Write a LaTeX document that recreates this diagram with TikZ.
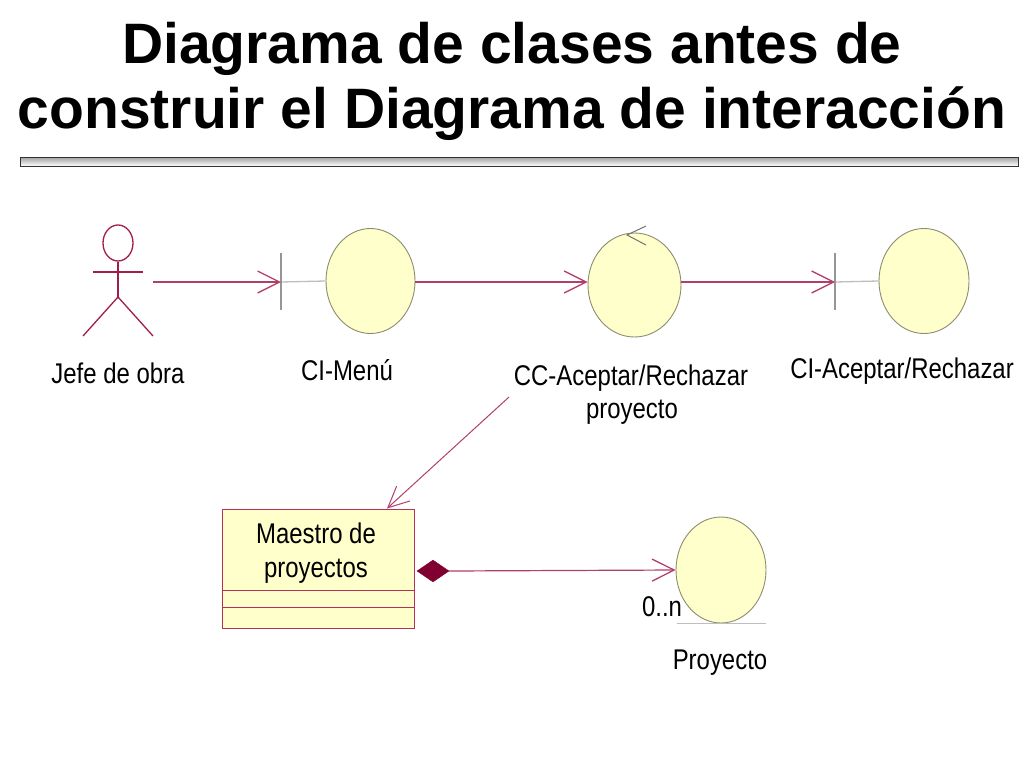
\documentclass[tikz,border=0pt]{standalone}
\usepackage{fontspec}
\setmainfont{Liberation Sans}
\newfontfamily\lbl[FakeStretch=0.84]{Liberation Sans}
\usetikzlibrary{arrows.meta,shapes.geometric}
\definecolor{lncol}{RGB}{178,62,108}
\definecolor{actcol}{RGB}{160,30,72}
\definecolor{robfill}{RGB}{255,255,204}
\definecolor{robdraw}{RGB}{140,140,110}
\definecolor{boxdraw}{RGB}{180,50,90}
\definecolor{diacol}{RGB}{128,0,50}
\definecolor{bndcol}{RGB}{150,150,150}
\definecolor{gl}{RGB}{190,190,190}
\tikzset{
  robust/.style={ellipse,draw=robdraw,fill=robfill,line width=0.9pt,inner sep=0pt},
  conn/.style={draw=lncol,line width=1.3pt,-{Straight Barb[length=22pt,width=22pt,line width=1.3pt]}},
  thinconn/.style={draw=lncol,line width=1pt,-{Straight Barb[length=21pt,width=20pt,line width=1pt]}},
  lab/.style={font=\lbl\fontsize{28.5}{33}\selectfont,anchor=base,inner sep=0pt,align=center,text=black},
  actline/.style={draw=actcol,line width=1.3pt},
  bnd/.style={draw=bndcol,line width=1.2pt},
  gray link/.style={draw=gl,line width=1.3pt}
}
\begin{document}
\begin{tikzpicture}[x=1pt,y=-1pt]
\useasboundingbox (0,0) rectangle (1024,768);
% title (base anchor = baseline of last line)
\node[font=\bfseries\fontsize{57}{65}\selectfont,align=center,anchor=base,inner sep=0pt] (title) at (512,128) {Diagrama de clases antes de\\construir el Diagrama de interacción};
\shade[top color=gray!75,bottom color=white,draw=black!80,line width=0.8pt] (20,157) rectangle (1018,166);

% actor
\node[ellipse,draw=actcol,line width=1.3pt,minimum width=30pt,minimum height=36pt,inner sep=0pt] (actor) at (118,243) {};
\coordinate (hip) at (118,297);
\coordinate (armL) at (93,272);
\coordinate (armR) at (143,272);
\coordinate (footL) at (83,336);
\coordinate (footR) at (153,336);
\draw[actline] (actor.south) -- (hip);
\draw[actline] (armL) -- (armR);
\draw[actline] (footL) -- (hip) -- (footR);
\node[lab] (actlab) at (118,383) {Jefe de obra};

% robustness objects
\node[robust,minimum width=89pt,minimum height=105pt] (cimenu) at (370.5,281) {};
\node[robust,minimum width=93pt,minimum height=104pt] (cc) at (634.5,285) {};
\node[robust,minimum width=90pt,minimum height=105pt] (ciar) at (924,281) {};
\node[robust,minimum width=90pt,minimum height=106pt] (proy) at (721,570) {};

% boundary symbols
\coordinate (b1) at (281,282);
\coordinate (b2) at (835,282);
\draw[gray link] (b1) -- (cimenu.west);
\draw[gray link] (b2) -- (ciar.west);
\draw[bnd] ([yshift=29pt]b1) -- ([yshift=-28pt]b1);
\draw[bnd] ([yshift=29pt]b2) -- ([yshift=-28pt]b2);

% control symbol
\draw[draw=gray!90!black,line width=1pt] (646,226) -- (627,235) -- (646,245);

% entity underline
\draw[gray link] ([xshift=-44pt]proy.south) -- ([xshift=45pt]proy.south);

% connectors
\coordinate (actR) at (153,282);
\draw[conn] (actR) -- (b1);
\draw[conn] (cimenu.east |- b1) -- (cc.west |- b1);
\draw[conn] (cc.east |- b2) -- (b2);

% class box
\node[draw=boxdraw,fill=robfill,line width=1pt,minimum width=192pt,minimum height=119pt,inner sep=0pt] (box) at (318,568.5) {};
\draw[draw=boxdraw,line width=1pt] (box.west |- 0,590) -- (box.east |- 0,590);
\draw[draw=boxdraw,line width=1pt] (box.west |- 0,607) -- (box.east |- 0,607);
\node[lab,font=\lbl\fontsize{28.5}{34}\selectfont] (boxlab) at (316,577) {Maestro de\\proyectos};

\coordinate (ccfoot) at (509,397);
\draw[thinconn] (ccfoot) -- ([xshift=69pt]box.north);

\node[diamond,fill=diacol,draw=diacol,minimum width=32pt,minimum height=22pt,inner sep=0pt] (dia) at (433,571) {};
\draw[conn,line width=1.2pt] (dia.east) -- (proy.west);

% labels
\node[lab] (l2) at (347,380) {CI-Menú};
\node[lab] (l3) at (631,385) {CC-Aceptar/Rechazar};
\node[lab] (l3b) at (632,418) {proyecto};
\node[lab] (l4) at (902,378) {CI-Aceptar/Rechazar};
\node[lab] (mult) at (662,616) {0..n};
\node[lab] (l5) at (720,669) {Proyecto};
\end{tikzpicture}
\end{document}
